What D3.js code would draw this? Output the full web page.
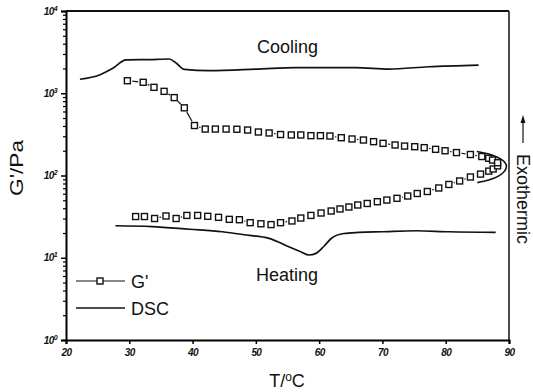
<!DOCTYPE html>
<html>
<head>
<meta charset="utf-8">
<script src="https://cdn.jsdelivr.net/npm/d3@7"></script>
<style>
  body { margin: 0; background: #fff; }
  text { font-family: "Liberation Sans", Arial, sans-serif; fill: #111; }
</style>
</head>
<body>
<div id="chart"></div>
<script>
// DSC trace on cooling (upper curve)
const dscCoolT = [22.2, 25.3, 27.4, 29.5, 33.2, 36.3, 37.4, 38.7, 42.6, 50.5, 56.3, 65.8, 71.0, 77.3, 85.2];
const dscCool  = [1480, 1670, 2010, 2540, 2570, 2610, 2330, 1950, 1880, 1970, 2045, 2045, 1970, 2100, 2200];

// DSC trace on heating (lower curve)
const dscHeatT = [27.8, 33.6, 39.5, 44.7, 48.5, 52.1, 55.2, 56.8, 58.4, 59.5, 60.8, 62.0, 63.9, 66.3, 69.9, 75.3, 80.5, 87.9];
const dscHeat  = [24.5, 23.9, 22.2, 20.7, 18.9, 17.2, 13.6, 12.1, 10.8, 11.3, 13.9, 17.4, 19.7, 20.3, 20.7, 21.3, 20.7, 20.4];

// G' on heating
const gHeatT = [31.0, 32.4, 34.0, 35.8, 37.4, 39.1, 40.8, 42.4, 44.1, 45.8, 47.4, 49.1, 50.8, 52.4, 53.9, 55.7, 57.1, 58.7, 60.3,
                61.9, 63.3, 64.7, 66.1, 67.6, 69.2, 70.7, 72.3, 74.0, 75.5, 77.1, 78.9, 80.5, 82.2, 83.9, 85.5, 86.8, 87.5, 88.2];
const gHeat  = [31.7, 31.7, 30.0, 32.2, 30.0, 32.7, 32.7, 31.9, 31.0, 29.3, 29.0, 26.7, 25.9, 25.3, 26.7, 28.0, 30.4, 32.7, 35.0,
                37.0, 39.2, 41.4, 43.8, 45.7, 48.0, 50.3, 52.8, 56.3, 60.4, 63.9, 70.5, 77.8, 85.8, 95.9, 104, 113, 120, 131];

// G' on cooling
const gCoolT = [29.7, 32.2, 33.9, 35.5, 37.1, 38.7, 40.3, 42.0, 43.6, 45.3, 47.0, 48.7, 50.4, 52.1, 53.9, 55.6, 57.1, 58.7, 60.2,
                61.7, 63.5, 65.2, 67.0, 68.6, 70.1, 72.0, 73.5, 75.1, 76.6, 78.4, 79.9, 81.7, 83.9, 85.7, 86.8, 87.4, 88.2];
const gCool  = [1420, 1360, 1180, 1055, 885, 665, 405, 367, 367, 367, 365, 357, 338, 329, 315, 311, 311, 305, 305,
                302, 288, 278, 270, 258, 246, 235, 228, 224, 218, 208, 200, 190, 180, 170, 162, 154, 143];

// turning loop drawn at the top temperature
const loopT = [84.9, 86.8, 88.4, 89.3, 89.6, 89.3, 88.4, 86.8, 85.0];
const loopV = [196, 182, 163, 146, 130, 113, 99, 88, 82];

const xTicks = [20, 30, 40, 50, 60, 70, 80, 90];
const yExps = [0, 1, 2, 3, 4];

const W = 533, H = 392;
const margin = { top: 11, right: 24, bottom: 52, left: 66 };

const svg = d3.select("#chart").append("svg")
    .attr("width", W)
    .attr("height", H);

const x = d3.scaleLinear().domain([20, 90]).range([margin.left, W - margin.right]);
const y = d3.scaleLog().domain([1, 1e4]).range([H - margin.bottom, margin.top]);

// minor log ticks
const minor = [];
for (let e = 0; e < 4; e++) for (let m = 2; m <= 9; m++) minor.push(m * Math.pow(10, e));

svg.append("g")
    .attr("transform", `translate(${margin.left},0)`)
    .call(d3.axisLeft(y).tickValues(minor).tickSize(3).tickFormat(""))
    .call(g => g.select(".domain").remove())
    .selectAll("line").attr("stroke-width", 1.2);

const yAxis = svg.append("g")
    .attr("transform", `translate(${margin.left},0)`)
    .call(d3.axisLeft(y).tickValues(yExps.map(e => Math.pow(10, e))).tickSize(5).tickPadding(4).tickFormat(""));
yAxis.select(".domain").attr("stroke-width", 2);
yAxis.selectAll("line").attr("stroke-width", 1.5);
yAxis.selectAll(".tick text")
    .attr("font-size", 10).attr("font-weight", "bold").attr("font-style", "italic")
    .attr("letter-spacing", -0.6)
    .each(function(d) {
      const t = d3.select(this);
      t.append("tspan").text("10");
      t.append("tspan").attr("dy", -4).attr("font-size", 7).text(Math.round(Math.log10(d)));
    });

const xAxis = svg.append("g")
    .attr("transform", `translate(0,${H - margin.bottom})`)
    .call(d3.axisBottom(x).tickValues(xTicks).tickSize(4).tickPadding(5));
xAxis.select(".domain").attr("stroke-width", 2);
xAxis.selectAll("line").attr("stroke-width", 1.5);
xAxis.selectAll("text")
    .attr("font-size", 10).attr("font-weight", "bold").attr("font-style", "italic")
    .attr("letter-spacing", -0.6)
    .attr("font-family", "Liberation Sans, Arial, sans-serif");

// top and right frame
svg.append("line")
    .attr("x1", margin.left).attr("x2", W - margin.right)
    .attr("y1", margin.top).attr("y2", margin.top)
    .attr("stroke", "#111").attr("stroke-width", 2);
svg.append("line")
    .attr("x1", W - margin.right).attr("x2", W - margin.right)
    .attr("y1", margin.top).attr("y2", H - margin.bottom)
    .attr("stroke", "#111").attr("stroke-width", 1.5);

// DSC curves
const line = d3.line().x(d => x(d[0])).y(d => y(d[1])).curve(d3.curveMonotoneX);
svg.append("path")
    .attr("d", line(d3.zip(dscCoolT, dscCool)))
    .attr("fill", "none").attr("stroke", "#111").attr("stroke-width", 1.7);
svg.append("path")
    .attr("d", line(d3.zip(dscHeatT, dscHeat)))
    .attr("fill", "none").attr("stroke", "#111").attr("stroke-width", 1.7);
svg.append("path")
    .attr("d", d3.line().x(d => x(d[0])).y(d => y(d[1])).curve(d3.curveCatmullRom)(d3.zip(loopT, loopV)))
    .attr("fill", "none").attr("stroke", "#111").attr("stroke-width", 1.6);

// G' connecting segments, with a gap around each symbol
function gapSegments(ts, vs) {
  const pts = ts.map((t, i) => [x(t), y(vs[i])]);
  const segs = [];
  for (let i = 1; i < pts.length; i++) {
    const [x0, y0] = pts[i - 1], [x1, y1] = pts[i];
    const len = Math.hypot(x1 - x0, y1 - y0), gap = 5;
    if (len > 2 * gap + 1) {
      const ux = (x1 - x0) / len, uy = (y1 - y0) / len;
      segs.push([x0 + ux * gap, y0 + uy * gap, x1 - ux * gap, y1 - uy * gap]);
    }
  }
  return segs;
}
const segs = gapSegments(gCoolT, gCool).concat(gapSegments(gHeatT, gHeat));
svg.append("g").selectAll("line").data(segs).enter().append("line")
    .attr("x1", d => d[0]).attr("y1", d => d[1])
    .attr("x2", d => d[2]).attr("y2", d => d[3])
    .attr("stroke", "#111").attr("stroke-width", 1.2);

const gPts = d3.zip(gHeatT, gHeat).concat(d3.zip(gCoolT, gCool));
svg.append("g").selectAll("rect").data(gPts).enter().append("rect")
    .attr("x", d => x(d[0]) - 3).attr("y", d => y(d[1]) - 3)
    .attr("width", 6).attr("height", 6)
    .attr("fill", "#fff").attr("stroke", "#111").attr("stroke-width", 1.4);

// annotations
svg.append("text").attr("x", 257).attr("y", 53).attr("font-size", 18).text("Cooling");
svg.append("text").attr("x", 256).attr("y", 281).attr("font-size", 18).text("Heating");

// legend
const legend = svg.append("g");
legend.append("line").attr("x1", 76).attr("x2", 125).attr("y1", 281).attr("y2", 281)
    .attr("stroke", "#111").attr("stroke-width", 1.2);
legend.append("rect").attr("x", 97).attr("y", 278).attr("width", 6).attr("height", 6)
    .attr("fill", "#fff").attr("stroke", "#111").attr("stroke-width", 1.4);
legend.append("text").attr("x", 131).attr("y", 288).attr("font-size", 18).text("G'");
legend.append("line").attr("x1", 76).attr("x2", 125).attr("y1", 308).attr("y2", 308)
    .attr("stroke", "#111").attr("stroke-width", 1.7);
legend.append("text").attr("x", 131).attr("y", 315).attr("font-size", 18).text("DSC");

// axis titles
svg.append("text")
    .attr("transform", "translate(23,168) rotate(-90)")
    .attr("text-anchor", "middle").attr("font-size", 18)
    .attr("textLength", 56).attr("lengthAdjust", "spacingAndGlyphs")
    .text("G'/Pa");

const xt = svg.append("text")
    .attr("x", 287).attr("y", 387).attr("text-anchor", "middle").attr("font-size", 18);
xt.append("tspan").text("T/");
xt.append("tspan").attr("dy", -6).attr("font-size", 12).text("o");
xt.append("tspan").attr("dy", 6).text("C");

// exothermic direction
svg.append("text")
    .attr("transform", "translate(517,199) rotate(90)")
    .attr("text-anchor", "middle").attr("font-size", 18)
    .text("Exothermic");
svg.append("line").attr("x1", 523).attr("x2", 523).attr("y1", 143).attr("y2", 121)
    .attr("stroke", "#111").attr("stroke-width", 1.2);
svg.append("path").attr("d", d3.line()([[520.5, 123], [523, 115], [525.5, 123]]) + "Z")
    .attr("fill", "#111");
</script>
</body>
</html>
